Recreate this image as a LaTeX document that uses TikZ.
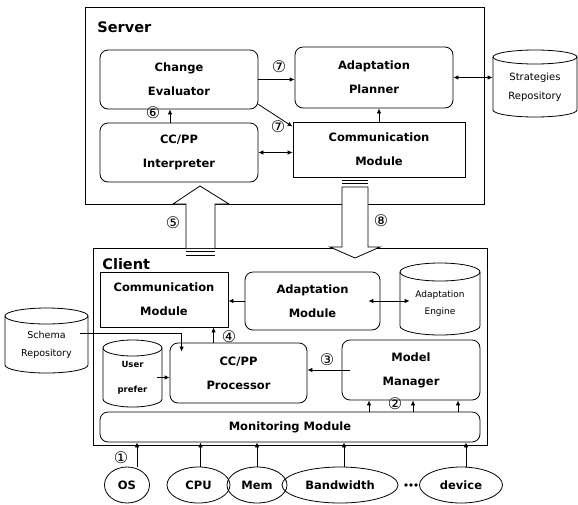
\documentclass[tikz,border=0pt]{standalone}
\usepackage{fontspec}
\setmainfont{DejaVu Sans}
\newfontfamily\circfont{DejaVu Sans}
\usetikzlibrary{arrows.meta,shapes.geometric,calc}
\tikzset{
  x=1pt,y=1pt,
  every path/.style={line width=0.8pt},
  lbl/.style={font=\fontsize{11.5}{24}\selectfont\bfseries, align=center},
  rbox/.style={draw, rounded corners=8pt, lbl, inner sep=0pt},
  sbox/.style={draw, lbl, inner sep=0pt},
  res/.style={draw, ellipse, inner sep=0pt, minimum height=36pt, font=\fontsize{11.5}{13}\selectfont\bfseries},
  arr/.style={-{Latex[length=5pt,width=4.5pt]}},
  darr/.style={{Latex[length=5pt,width=4.5pt]}-{Latex[length=5pt,width=4.5pt]}},
  num/.style={font=\circfont\fontsize{16}{16}\selectfont, inner sep=0pt},
  bigarr/.style={draw, fill=white, line width=0.8pt},
}
% cylinder: name, x1, ytop, x2, ybot, ry, font, text
\newcommand\cyl[8]{%
  \pgfmathsetmacro\cx{(#2+#4)/2}%
  \pgfmathsetmacro\rx{(#4-#2)/2}%
  \pgfmathsetmacro\cy{-(#3+#6+#5)/2}%
  \pgfmathsetmacro\hh{#5-#3-#6}%
  \draw[fill=white] (#2,-#3-#6) -- (#2,-#5+#6) arc[start angle=180,end angle=360,x radius=\rx,y radius=#6] -- (#4,-#3-#6);
  \draw (\cx,-#3-#6) ellipse[x radius=\rx,y radius=#6];
  \node[align=center, inner sep=0pt, font=#7, minimum width=2*\rx, minimum height=\hh] (#1) at (\cx,\cy) {#8};
}
\begin{document}
\begin{tikzpicture}
\useasboundingbox (0,0) rectangle (578,-504);

% ---------- Server ----------
\draw (85,-7) rectangle (484,-204);
\node[anchor=west, font=\fontsize{14.5}{16}\selectfont\bfseries, inner sep=0pt] (srvlbl) at (97,-27) {Server};

\node[rbox, minimum width=158pt, minimum height=59pt] (ce) at (179,-79.5) {Change\\Evaluator};
\node[rbox, minimum width=158pt, minimum height=59pt] (ci) at (179,-152.5) {CC/PP\\Interpreter};
\node[rbox, minimum width=158pt, minimum height=61pt] (ap) at (374,-77.5) {Adaptation\\Planner};
\node[sbox, minimum width=172pt, minimum height=55pt] (scm) at (379,-149.5) {Communication\\Module};
\cyl{sr}{493}{50}{577}{117}{7}{\fontsize{10}{19}\selectfont}{Strategies\\Repository}

\draw[arr] (ce.east) -- (ce.east -| ap.west);
\draw[arr] ([yshift=5pt]ce.south east) -- ([yshift=-5pt]scm.north west);
\draw[darr] (ci.east) -- (ci.east -| scm.west);
\draw[arr] ([xshift=-9pt]ci.north) -- ([xshift=-9pt]ci.north |- ce.south);
\draw[arr] (scm.north) -- (scm.north |- ap.south);
\draw[darr] (ap.east) -- (ap.east -| sr.west);

\node[num] (n7a) at (279,-67) {⑦};
\node[num] (n7b) at (278,-127) {⑦};
\node[num] (n6) at (153,-113) {⑥};

% ---------- Client ----------
\draw (93,-248) rectangle (487,-445);
\node[anchor=west, font=\fontsize{14.5}{16}\selectfont\bfseries, inner sep=0pt] (clilbl) at (102,-264) {Client};

\node[sbox, minimum width=128pt, minimum height=55pt] (ccm) at (164,-299.5) {Communication\\Module};
\node[rbox, minimum width=135pt, minimum height=58pt] (am) at (312.5,-301) {Adaptation\\Module};
\cyl{ae}{400}{263}{480}{335}{9}{\fontsize{9}{17}\selectfont}{Adaptation\\Engine}
\node[rbox, minimum width=137pt, minimum height=60pt] (pp) at (238.5,-373) {CC/PP\\Processor};
\node[rbox, minimum width=138pt, minimum height=60pt] (mm) at (411,-370) {Model\\Manager};
\cyl{up}{103}{340}{162}{407}{8}{\fontsize{8.5}{25}\selectfont\bfseries}{User\\prefer}
\cyl{sch}{5}{308}{88}{373}{8}{\fontsize{9.5}{18}\selectfont}{Schema\\Repository}
\node[rbox, minimum width=380pt, minimum height=30pt] (mon) at (290,-427) {Monitoring Module};

\draw[arr] (am.west) -- (am.west -| ccm.east);
\draw[darr] ([xshift=-12pt]am.east) -- ([xshift=10pt]ae.west |- am.east);
\draw[arr] ([xshift=-25pt]pp.north) -- ([xshift=-25pt]pp.north |- ccm.south);
\draw[arr] ([xshift=8pt]mm.west) -- (mm.west -| pp.east);
\draw[arr] ([xshift=-5pt]up.east) -- (up.east -| pp.west);
\draw[arr] ([shift={(-8pt,11pt)}]sch.east) -| ([shift={(12pt,-9pt)}]pp.north west);
\foreach \dx in {-42,2,47}
  \draw[arr] ([xshift=\dx pt]mm.south |- mon.north) -- ([xshift=\dx pt]mm.south);

\node[num] (n4) at (229,-337) {④};
\node[num] (n3) at (327,-360) {③};
\node[num] (n2) at (395,-404) {②};

% ---------- Resources ----------
\node[res, minimum width=45pt] (os) at (127,-485) {OS};
\node[res, minimum width=63pt] (cpu) at (198.5,-485) {CPU};
\node[res, minimum width=60pt] (mem) at (257,-485) {Mem};
\node[res, minimum width=116pt] (bw) at (340,-485) {Bandwidth};
\node[res, minimum width=83pt] (dev) at (461,-485) {device};
\foreach \xx in {406,411,416}
  \fill (\xx,-485) circle[radius=1.9pt];

\draw[arr] ([xshift=10pt]os.north) -- ([xshift=10pt]os.north |- mon.south);
\draw[arr] ([xshift=2pt]cpu.north) -- ([xshift=2pt]cpu.north |- mon.south);
\draw[arr] (mem.north) -- (mem.north |- mon.south);
\draw[arr] ([xshift=4pt]bw.north) -- ([xshift=4pt]bw.north |- mon.south);
\draw[arr] ([xshift=5pt]dev.north) -- ([xshift=5pt]dev.north |- mon.south);
\node[num] (n1) at (121,-458) {①};

% ---------- Big hollow arrows ----------
\draw[bigarr] (186,-248) -- (186,-204) -- (173,-204) -- (200,-186) -- (229,-204) -- (215,-204) -- (215,-248);
\draw (186,-251) -- (215,-251);
\draw (186,-255) -- (215,-255);
\node[num] (n5) at (173,-223) {⑤};

\draw[bigarr] (342,-187) -- (342,-247) -- (330,-247) -- (355,-258) -- (380,-247) -- (368,-247) -- (368,-187) -- cycle;
\draw (342,-180) -- (368,-180);
\draw (342,-183.5) -- (368,-183.5);
\node[num] (n8) at (381,-221) {⑧};
\end{tikzpicture}
\end{document}
